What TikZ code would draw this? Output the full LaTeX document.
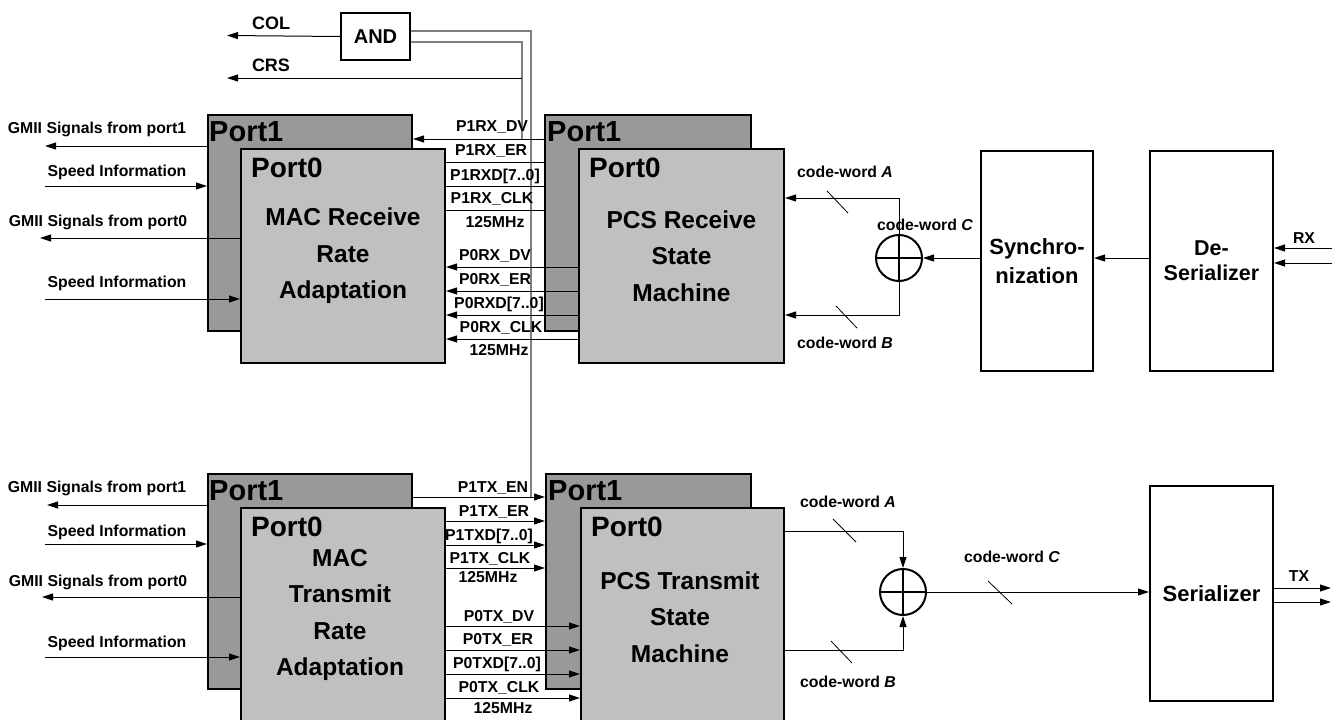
\documentclass[tikz,border=0pt]{standalone}
\usepackage{fontspec}
\setmainfont{Liberation Sans}
\usetikzlibrary{arrows.meta,calc}
\definecolor{darkbox}{HTML}{999999}
\definecolor{lightbox}{HTML}{C0C0C0}
\definecolor{wire}{HTML}{808080}
\begin{document}
\begin{tikzpicture}[x=1pt,y=-1pt,
  lab/.style={font=\fontsize{15.8}{18}\selectfont\bfseries, inner sep=0pt},
  big/.style={font=\fontsize{24.5}{36.5}\selectfont\bfseries, align=center},
  porttxt/.style={font=\fontsize{28}{30}\selectfont\bfseries, inner sep=0pt, anchor=base west},
  darkblk/.style={draw=black, line width=2pt, fill=darkbox, anchor=north west, inner sep=0pt},
  lightblk/.style={draw=black, line width=2pt, fill=lightbox, anchor=north west, inner sep=0pt},
  whiteblk/.style={draw=black, line width=2pt, fill=white, anchor=north west, inner sep=0pt},
  sig/.style={line width=1pt},
  arr/.style={line width=1pt, -{Triangle[length=11pt,width=7pt]}},
  wirel/.style={draw=wire, line width=1.5pt},
  xorc/.style={circle, draw=black, line width=2pt, minimum size=46pt, inner sep=0pt},
  slash/.style={line width=0.8pt}
]
\useasboundingbox[fill=white] (0,0) rectangle (1344,720);

% ---------------- blocks ----------------
\node[whiteblk, minimum width=69pt, minimum height=47pt, font=\fontsize{20}{22}\selectfont\bfseries] (and) at (340,12) {AND};

\node[darkblk, minimum width=204pt, minimum height=216pt] (macRx1) at (207,114) {};
\node[lightblk, minimum width=204pt, minimum height=214pt, big] (macRx0) at (240,148) {MAC Receive\\Rate\\Adaptation};
\node[darkblk, minimum width=206pt, minimum height=216pt] (pcsRx1) at (544,114) {};
\node[lightblk, minimum width=205pt, minimum height=214pt, big] (pcsRx0) at (578,148) {PCS Receive\\State\\Machine};

\node[whiteblk, minimum width=112pt, minimum height=220pt, align=center, font=\fontsize{22}{29}\selectfont\bfseries] (sync) at (980,150) {Synchro-\\nization};
\node[whiteblk, minimum width=123pt, minimum height=220pt, align=center, font=\fontsize{21.5}{25}\selectfont\bfseries] (deser) at (1149,150) {De-\\Serializer};

\node[darkblk, minimum width=204pt, minimum height=215pt] (macTx1) at (207,473) {};
\node[lightblk, minimum width=204pt, minimum height=225pt] (macTx0) at (240,507) {};
\node[darkblk, minimum width=205pt, minimum height=215pt] (pcsTx1) at (545,473) {};
\node[lightblk, minimum width=203pt, minimum height=225pt] (pcsTx0) at (580,507) {};
\node[big] (macTxT) at (340,615) {MAC\\Transmit\\Rate\\Adaptation};
\node[big] (pcsTxT) at (680,617) {PCS Transmit\\State\\Machine};

\node[whiteblk, minimum width=123pt, minimum height=215pt, font=\fontsize{22}{25}\selectfont\bfseries] (ser) at (1149,485) {Serializer};

% port labels
\node[porttxt, font=\fontsize{29}{30}\selectfont\bfseries] (lp1) at ($(macRx1.north west)+(2,27)$) {Port1};
\node[porttxt] (lp2) at ($(macRx0.north west)+(11,29)$) {Port0};
\node[porttxt, font=\fontsize{29}{30}\selectfont\bfseries] (lp3) at ($(pcsRx1.north west)+(3,27)$) {Port1};
\node[porttxt] (lp4) at ($(pcsRx0.north west)+(11,29)$) {Port0};
\node[porttxt, font=\fontsize{29}{30}\selectfont\bfseries] (lp5) at ($(macTx1.north west)+(2,27)$) {Port1};
\node[porttxt] (lp6) at ($(macTx0.north west)+(11,29)$) {Port0};
\node[porttxt, font=\fontsize{29}{30}\selectfont\bfseries] (lp7) at ($(pcsTx1.north west)+(3,27)$) {Port1};
\node[porttxt] (lp8) at ($(pcsTx0.north west)+(11,29)$) {Port0};

% ---------------- AND / COL / CRS ----------------
\coordinate (colend) at (227,35.5);
\coordinate (crsend) at (227,78);
\coordinate (crsj) at (522,78);
\coordinate (j1) at (522,139);
\coordinate (j2) at (531,497);
\draw[wirel] (and.east |- 0,31) -| (j2);
\draw[wirel] (and.east |- 0,42) -| (j1);
\draw[arr] (and.west) -- (colend);
\draw[arr] (crsj) -- (crsend);
\node[lab, font=\fontsize{18}{20}\selectfont\bfseries] (tcol) at (271,23) {COL};
\node[lab, font=\fontsize{18}{20}\selectfont\bfseries] (tcrs) at (271,65) {CRS};

% ---------------- receive: left ----------------
\coordinate (g1r) at (45,146);
\coordinate (s1r) at (45,186);
\coordinate (g0r) at (40,238);
\coordinate (s0r) at (45,299);
\draw[arr] (macRx1.west |- g1r) -- (g1r);
\draw[arr] (s1r) -- (macRx1.west |- s1r);
\draw[arr] (macRx0.west |- g0r) -- (g0r);
\draw[arr] (s0r) -- (macRx0.west |- s0r);
\node[lab] (tg1r) at (97,129) {GMII Signals from port1};
\node[lab] (ts1r) at (117,172) {Speed Information};
\node[lab] (tg0r) at (98,222) {GMII Signals from port0};
\node[lab] (ts0r) at (117,283) {Speed Information};

% ---------------- receive: middle ----------------
\draw[arr] (pcsRx1.west |- 0,139) -- (macRx1.east |- 0,139);
\draw[sig] (macRx0.east |- 0,162) -- (pcsRx1.west |- 0,162);
\draw[sig] (macRx0.east |- 0,186) -- (pcsRx1.west |- 0,186);
\draw[sig] (macRx0.east |- 0,210) -- (pcsRx1.west |- 0,210);
\draw[arr] (pcsRx0.west |- 0,267) -- (macRx0.east |- 0,267);
\draw[arr] (pcsRx0.west |- 0,291) -- (macRx0.east |- 0,291);
\draw[arr] (pcsRx0.west |- 0,315) -- (macRx0.east |- 0,315);
\draw[arr] (pcsRx0.west |- 0,339) -- (macRx0.east |- 0,339);
\node[lab] (r1) at (492,127) {P1RX\_DV};
\node[lab] (r2) at (491,151) {P1RX\_ER};
\node[lab] (r3) at (495,176) {P1RXD[7..0]};
\node[lab] (r4) at (492,199) {P1RX\_CLK};
\node[lab] (r5) at (495,222) {125MHz};
\node[lab] (r6) at (495,256) {P0RX\_DV};
\node[lab] (r7) at (495,280) {P0RX\_ER};
\node[lab] (r8) at (499,304) {P0RXD[7..0]};
\node[lab] (r9) at (501,328) {P0RX\_CLK};
\node[lab] (r10) at (499,350) {125MHz};

% ---------------- receive: right ----------------
\node[xorc] (xorR) at (899,258) {};
\draw[line width=2pt] (xorR.north) -- (xorR.south) (xorR.west) -- (xorR.east);
\draw[arr] (xorR.north) |- (pcsRx0.east |- 0,198);
\draw[arr] (xorR.south) |- (pcsRx0.east |- 0,315);
\draw[slash] (827,191) -- (848,213);
\draw[slash] (836,306) -- (857,328);
\draw[arr] (sync.west |- xorR.east) -- (xorR.east);
\draw[arr] (deser.west |- xorR.east) -- (sync.east |- xorR.east);
\coordinate (rx1) at (1332,248);
\coordinate (rx2) at (1332,263);
\draw[arr] (rx1) -- (deser.east |- rx1);
\draw[arr] (rx2) -- (deser.east |- rx2);
\node[lab] (cwAr) at (845,172) {code-word \textit{A}};
\node[lab] (cwBr) at (845,343) {code-word \textit{B}};
\node[lab] (cwCr) at (925,225) {code-word \textit{C}};
\node[lab] (trx) at (1304,238) {RX};

% ---------------- transmit: left ----------------
\coordinate (g1t) at (47,505);
\coordinate (s1t) at (45,544);
\coordinate (g0t) at (42,597);
\coordinate (s0t) at (45,657);
\draw[arr] (macTx1.west |- g1t) -- (g1t);
\draw[arr] (s1t) -- (macTx1.west |- s1t);
\draw[arr] (macTx0.west |- g0t) -- (g0t);
\draw[arr] (s0t) -- (macTx0.west |- s0t);
\node[lab] (tg1t) at (97,488) {GMII Signals from port1};
\node[lab] (ts1t) at (117,532) {Speed Information};
\node[lab] (tg0t) at (98,582) {GMII Signals from port0};
\node[lab] (ts0t) at (117,643) {Speed Information};

% ---------------- transmit: middle ----------------
\draw[arr] (macTx1.east |- j2) -- (pcsTx1.west |- j2);
\draw[arr] (macTx0.east |- 0,521) -- (pcsTx1.west |- 0,521);
\draw[arr] (macTx0.east |- 0,545) -- (pcsTx1.west |- 0,545);
\draw[arr] (macTx0.east |- 0,568) -- (pcsTx1.west |- 0,568);
\draw[arr] (macTx0.east |- 0,626) -- (pcsTx0.west |- 0,626);
\draw[arr] (macTx0.east |- 0,650) -- (pcsTx0.west |- 0,650);
\draw[arr] (macTx0.east |- 0,674) -- (pcsTx0.west |- 0,674);
\draw[arr] (macTx0.east |- 0,698) -- (pcsTx0.west |- 0,698);
\node[lab] (t1) at (493,488) {P1TX\_EN};
\node[lab] (t2) at (494,512) {P1TX\_ER};
\node[lab] (t3) at (489,536) {P1TXD[7..0]};
\node[lab] (t4) at (490,559) {P1TX\_CLK};
\node[lab] (t5) at (488,577) {125MHz};
\node[lab] (t6) at (499,617) {P0TX\_DV};
\node[lab] (t7) at (498,640) {P0TX\_ER};
\node[lab] (t8) at (497,664) {P0TXD[7..0]};
\node[lab] (t9) at (499,688) {P0TX\_CLK};
\node[lab] (t10) at (503,708) {125MHz};

% ---------------- transmit: right ----------------
\node[xorc] (xorT) at (903,592) {};
\draw[line width=2pt] (xorT.north) -- (xorT.south) (xorT.west) -- (xorT.east);
\draw[arr] (pcsTx0.east |- 0,531) -| (xorT.north);
\draw[arr] (pcsTx0.east |- 0,650) -| (xorT.south);
\draw[arr] (xorT.east) -- (ser.west |- xorT.east);
\draw[slash] (833,519) -- (856,542);
\draw[slash] (831,641) -- (852,663);
\draw[slash] (988,581) -- (1012,604);
\coordinate (tx1) at (1331,588);
\coordinate (tx2) at (1331,602);
\draw[arr] (ser.east |- tx1) -- (tx1);
\draw[arr] (ser.east |- tx2) -- (tx2);
\node[lab] (cwAt) at (848,502) {code-word \textit{A}};
\node[lab] (cwBt) at (848,682) {code-word \textit{B}};
\node[lab] (cwCt) at (1012,557) {code-word \textit{C}};
\node[lab] (ttx) at (1299,576) {TX};
\end{tikzpicture}
\end{document}
